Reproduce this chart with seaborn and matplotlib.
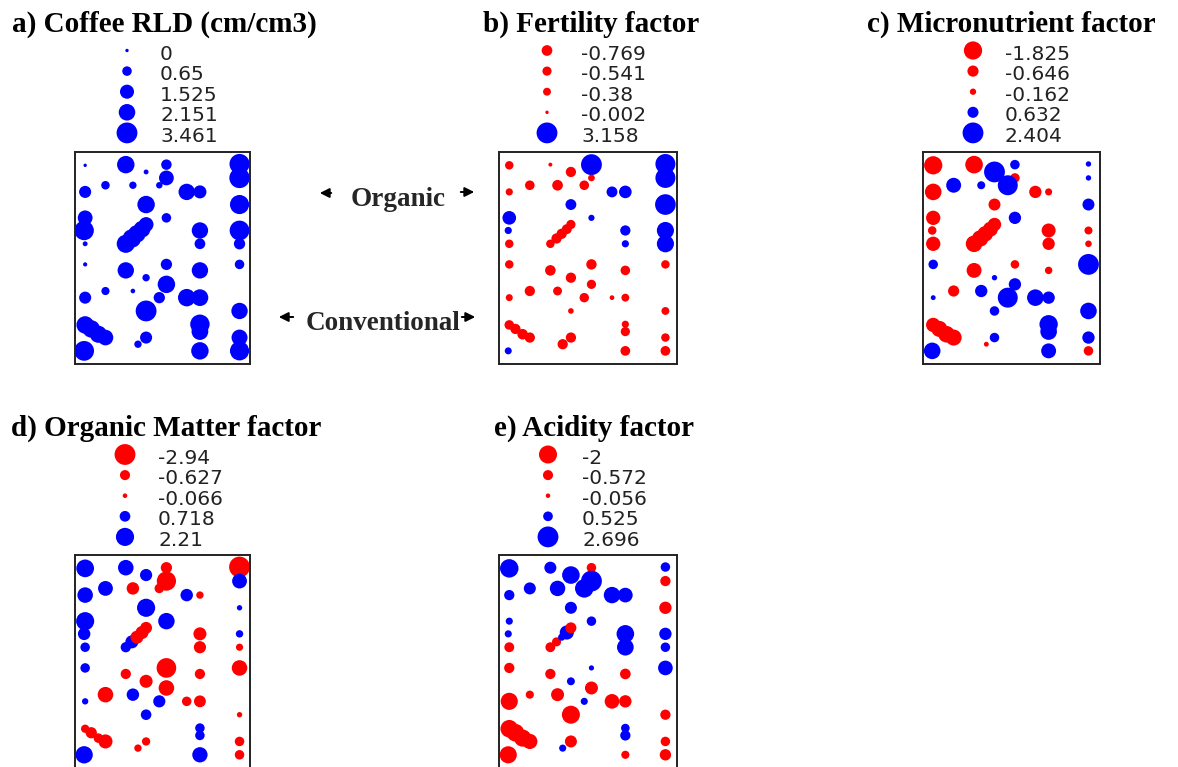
import numpy as np
import pandas as pd
import matplotlib
matplotlib.use('Agg')
import matplotlib.pyplot as plt
import seaborn as sns

# sampling positions (grid units: column across, row down from the top of the plot)
x_pos = [0.5, 2.5, 3.5, 4.5, 4.5, 4.15, 1.5, 2.85, 0.5, 5.5, 6.15, 8.1, 8.1, 3.5, 4.5, 8.1, 0.5, 0.45, 0.5,
         2.5, 2.8, 3.05, 3.3, 3.5,
         6.15, 6.15, 8.1, 8.1, 0.5, 2.5, 4.5, 3.5, 6.15, 8.1, 4.5, 1.5, 2.85, 0.5, 4.15, 5.5, 6.15, 3.5, 8.1,
         0.5, 0.8, 1.15, 1.5,
         6.15, 6.15, 3.5, 3.1, 8.1, 0.45, 6.15, 8.1]
y_pos = [1.0, 0.95, 1.5, 0.95, 1.95, 2.5, 2.5, 2.5, 3.0, 3.0, 3.0, 0.9, 1.95, 3.95, 4.95, 3.95, 4.95, 5.9, 6.9,
         6.9, 6.5, 6.15, 5.8, 5.45,
         5.9, 6.9, 5.9, 6.9, 8.45, 8.9, 8.45, 9.45, 8.9, 8.45, 9.95, 10.45, 10.45, 10.95, 10.95, 10.95, 10.95, 11.95, 11.95,
         13.0, 13.3, 13.7, 13.95,
         12.95, 13.5, 13.95, 14.45, 13.95, 14.95, 14.95, 14.95]

rld = [0, 2.4, 0.1, 0.8, 1.7, 0.25, 0.5, 0.35, 1.1, 2.1, 1.3, 3.2, 3.3, 2.4, 0.65, 2.9, 1.7, 3.0, 0.1,
       2.6, 2.7, 2.4, 2.2, 1.7,
       2.1, 0.85, 3.1, 0.95, 0.05, 2.1, 0.95, 0.35, 2.1, 0.65, 2.4, 0.45, 0.08, 1.1, 0.95, 2.4, 2.2, 3.461, 2.1,
       2.4, 2.4, 2.3, 1.9,
       3.0, 2.2, 1.1, 0.35, 2.0, 3.1, 2.4, 2.9]
fert = [-0.45, -0.03, -0.7, 3.158, -0.25, -0.6, -0.6, -0.769, -0.3, 0.8, 1.1, 2.9, 2.9, 0.8, 0.2, 3.1, 1.3, 0.3, -0.45,
        -0.45, -0.7, -0.7, -0.65, -0.55,
        0.7, 0.3, 2.1, 2.1, -0.45, -0.75, -0.72, -0.7, -0.6, -0.45, -0.55, -0.7, -0.5, -0.28, -0.58, -0.08, -0.38, -0.15, -0.38,
        -0.6, -0.7, -0.75, -0.7,
        -0.3, -0.55, -0.7, -0.7, -0.45, 0.28, -0.62, -0.62]
micro = [-1.825, -1.7, 2.404, 0.45, -0.45, 2.2, 1.2, 0.3, -1.5, -0.8, -0.22, 0.1, 0.1, -0.75, 0.8, 0.75, -1.1, -0.35, -1.1,
         -1.5, -1.45, -1.3, -1.2, -0.95,
         -1.05, -0.8, -0.3, -0.18, 0.45, -1.2, -0.35, 0.1, -0.25, 2.4, 0.8, -0.65, 0.8, 0.07, 2.2, 1.5, 0.8, 0.45, 1.5,
         -1.1, -1.4, -1.5, -1.4,
         1.85, 1.5, 0.45, -0.07, 0.8, 1.5, 1.2, -0.45]
om = [2.1, 1.6, 0.95, -0.8, -2.5, -0.55, 1.45, -1.0, 1.6, 1.0, -0.3, -2.94, 1.45, 2.21, 1.8, 0.12, 2.2, 1.0, 0.55,
      0.65, 1.1, -1.1, -1.1, -0.9,
      -1.1, -0.95, 0.3, -0.28, 0.55, -0.65, -2.6, -1.1, -0.65, -1.6, -1.6, -1.6, 1.0, 0.2, 0.95, -0.55, -0.9, 0.7, -0.12,
      -0.4, -0.8, -0.55, -1.3,
      0.55, 0.55, -0.4, -0.3, -0.55, 2.0, 1.55, -0.55]
acid = [2.1, 0.85, 1.9, -0.5, 2.696, 2.1, 0.85, 1.45, 0.6, 1.65, 1.3, 0.5, -0.6, 0.85, 0.5, -0.9, 0.25, 0.25, -0.55,
        -0.55, -0.45, 0.25, 1.2, -0.7,
        1.9, 1.7, 0.9, 0.5, -0.6, -0.6, 0.1, 0.33, -0.65, 1.3, -1.0, -0.35, -1.0, -1.8, 0.25, -1.3, -0.9, -2.0, -0.6,
        -1.9, -1.9, -1.8, -1.4,
        0.4, 0.6, -0.85, 0.25, -0.5, -1.8, -0.35, -0.75]

titles = ["a) Coffee RLD (cm/cm3)", "b) Fertility factor", "c) Micronutrient factor",
          "d) Organic Matter factor", "e) Acidity factor"]
legend_vals = [[0, 0.65, 1.525, 2.151, 3.461],
               [-0.769, -0.541, -0.38, -0.002, 3.158],
               [-1.825, -0.646, -0.162, 0.632, 2.404],
               [-2.94, -0.627, -0.066, 0.718, 2.21],
               [-2, -0.572, -0.056, 0.525, 2.696]]
legend_txt = [["0", "0.65", "1.525", "2.151", "3.461"],
              ["-0.769", "-0.541", "-0.38", "-0.002", "3.158"],
              ["-1.825", "-0.646", "-0.162", "0.632", "2.404"],
              ["-2.94", "-0.627", "-0.066", "0.718", "2.21"],
              ["-2", "-0.572", "-0.056", "0.525", "2.696"]]
series = [rld, fert, micro, om, acid]

W, H = 1178, 767
SMIN, SMAX = 6, 225
pal = {'neg': '#ff0000', 'pos': '#0000ff'}

# layout in pixels: box (x0, y0, x1, y1), title x, legend marker x, legend text x, row offset
layout = [((75, 152, 250.5, 363.5), 12, 127, 160, 0),
          ((499, 152, 676.5, 363.5), 483, 547, 581, 0),
          ((923, 152, 1099.5, 363.5), 867, 973, 1005, 0),
          ((75, 555, 250.5, 767.5), 11, 125, 158, 404),
          ((499, 555, 676.5, 767.5), 494, 548, 582, 404)]

sns.set_style('white')
fig = plt.figure(figsize=(W / 100, H / 100), dpi=100)
bg = fig.add_axes([0, 0, 1, 1])
bg.set_xlim(0, W)
bg.set_ylim(H, 0)
bg.axis('off')

for vals, title, lv, lt, (box, tx, mx, lx, dy) in zip(series, titles, legend_vals, legend_txt, layout):
    x0, y0, x1, y1 = box
    ax = fig.add_axes([x0 / W, 1 - y1 / H, (x1 - x0) / W, (y1 - y0) / H])
    df = pd.DataFrame({'x': x_pos, 'y': y_pos, 'val': vals})
    df['mag'] = df['val'].abs()
    df['sign'] = np.where(df['val'] < 0, 'neg', 'pos')
    vmax = df['mag'].max()
    sns.scatterplot(data=df, x='x', y='y', hue='sign', palette=pal, size='mag',
                    sizes=(SMIN, SMAX), size_norm=(0, vmax), legend=False,
                    linewidth=0, ax=ax)
    ax.set_xlim(0, 8.64)
    ax.set_ylim(15.9, 0)
    ax.set_xticks([])
    ax.set_yticks([])
    ax.set_xlabel('')
    ax.set_ylabel('')
    for sp in ax.spines.values():
        sp.set_color('#222222')
        sp.set_linewidth(1.4)

    # title
    bg.text(tx, 32 + dy, title, fontfamily='Liberation Serif', fontweight='bold',
            fontsize=21, va='baseline', ha='left', color='black')

    # legend
    ly = [54 + dy + 20.6 * i for i in range(5)]
    ldf = pd.DataFrame({'x': [mx] * 5, 'y': [v - 3.5 for v in ly], 'val': lv})
    ldf['mag'] = ldf['val'].abs()
    ldf['sign'] = np.where(ldf['val'] < 0, 'neg', 'pos')
    sns.scatterplot(data=ldf, x='x', y='y', hue='sign', palette=pal, size='mag',
                    sizes=(SMIN, SMAX), size_norm=(0, vmax), legend=False,
                    linewidth=0, ax=bg)
    for t, yy in zip(lt, ly):
        bg.text(lx, yy, t, fontfamily='DejaVu Sans', fontsize=14.5, va='center',
                ha='left', color='#222222')

bg.set_xlim(0, W)
bg.set_ylim(H, 0)
bg.set_xlabel('')
bg.set_ylabel('')

# treatment labels between panels a and b
bg.text(398, 199, "Organic", fontfamily='Liberation Serif', fontweight='bold',
        fontsize=19.5, ha='center', va='center')
bg.text(383, 323, "Conventional", fontfamily='Liberation Serif', fontweight='bold',
        fontsize=19.5, ha='center', va='center')
arrow = dict(arrowstyle='-|>', color='black', lw=1.4, mutation_scale=14)
for (xa, ya, xb, yb) in [(334, 193, 317, 193), (458, 192, 477, 192),
                         (296, 317, 276, 317), (459, 317, 478, 317)]:
    bg.annotate('', xy=(xb, yb), xytext=(xa, ya), arrowprops=arrow)

fig.savefig('out.png', dpi=100)
